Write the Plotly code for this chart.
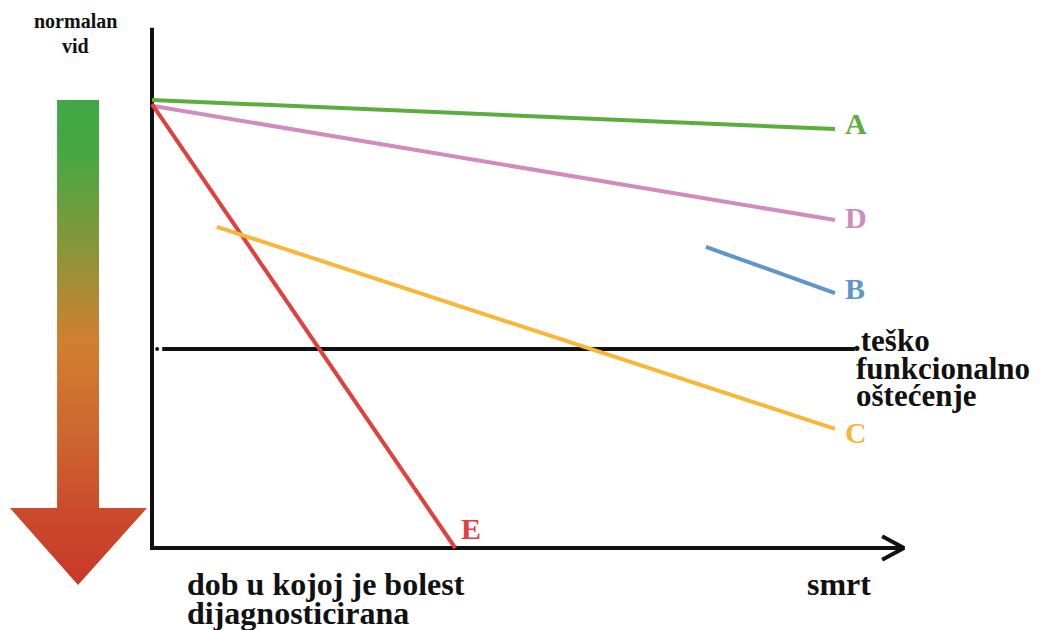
import plotly.graph_objects as go

# Conceptual data: x = time from diagnosis (0) to death (100); y = visual function (100 = normal vision)
series_names = ["A", "D", "E", "C", "B"]
series_x = {
    "A": [0, 100],
    "D": [0, 100],
    "E": [0, 44.4],
    "C": [9.5, 100],
    "B": [81.1, 100],
}
series_y = {
    "A": [100, 93.5],
    "D": [98.7, 73.2],
    "E": [99.1, 0],
    "C": [71.7, 26.6],
    "B": [67.2, 56.9],
}
series_colors = {
    "A": "#5cad3e",
    "D": "#cf8cbd",
    "E": "#e2403c",
    "C": "#f7b83a",
    "B": "#5f95c9",
}
label_shift = {"A": (8, 6), "D": (8, 3), "E": (4, 20), "C": (8, -4), "B": (8, 5)}
threshold_y = 44.4
threshold_x = [1.5, 102.9]

SERIF = "Liberation Serif, Times New Roman, serif"

fig = go.Figure()

# gradient arrow on the left
ax_x = [-13.9, -7.76, -7.76, -0.73, -10.83, -20.8, -13.9, -13.9]
ax_y = [100, 100, 8.93, 8.93, -8.26, 8.93, 8.93, 100]
fig.add_trace(go.Scatter(
    x=ax_x, y=ax_y, mode="lines", line=dict(width=0), fill="toself",
    fillgradient=dict(
        type="vertical", start=-8.26, stop=100,
        colorscale=[[0.0, "#c8382a"], [0.155, "#cb4b2c"], [0.278, "#cd612f"],
                    [0.505, "#d08030"], [0.69, "#8a9539"], [0.897, "#45a843"],
                    [1.0, "#3fa845"]]),
    hoverinfo="skip", showlegend=False))

# axes
fig.add_trace(go.Scatter(x=[0, 0, 110], y=[116.1, 0, 0], mode="lines",
                         line=dict(color="#111111", width=4), hoverinfo="skip", showlegend=False))
fig.add_trace(go.Scatter(x=[106.9, 110.1, 106.9], y=[2.6, 0, -2.6], mode="lines",
                         line=dict(color="#111111", width=4), hoverinfo="skip", showlegend=False))

# threshold line
fig.add_trace(go.Scatter(x=threshold_x, y=[threshold_y, threshold_y], mode="lines",
                         line=dict(color="#111111", width=4), hoverinfo="skip", showlegend=False))
fig.add_trace(go.Scatter(x=[0.75], y=[threshold_y], mode="markers",
                         marker=dict(color="#111111", size=4), hoverinfo="skip", showlegend=False))

# series lines
for n in series_names:
    fig.add_trace(go.Scatter(x=series_x[n], y=series_y[n], mode="lines",
                             line=dict(color=series_colors[n], width=4),
                             name=n, showlegend=False))
    xs, ys = label_shift[n]
    fig.add_annotation(x=series_x[n][-1], y=series_y[n][-1], text="<b>%s</b>" % n,
                       showarrow=False, xanchor="left", yanchor="middle",
                       xshift=xs, yshift=ys,
                       font=dict(family=SERIF, size=30, color=series_colors[n]))

# page body has an 8px margin: figure covers reference pixels 8..1043 x 8..630
OFF = 8
W, H = 1043 - OFF, 630 - OFF
def px(xp, yp):
    return (xp - OFF) / W, 1 - (yp - OFF) / H

texts = [
    ("normalan", 75, 21, 20, "center"),
    ("vid", 75, 46, 20, "center"),
    (".teško", 852, 340, 31, "left"),
    ("funkcionalno", 855, 368, 31, "left"),
    ("oštećenje", 855, 395, 31, "left"),
    ("dob u kojoj je bolest", 186, 584, 32, "left"),
    ("dijagnosticirana", 186, 613, 32, "left"),
    ("smrt", 806, 584, 32, "left"),
]
for t, x0, y0, s, anc in texts:
    xx, yy = px(x0, y0)
    fig.add_annotation(x=xx, y=yy, xref="paper", yref="paper", text="<b>%s</b>" % t,
                       showarrow=False, xanchor=anc, yanchor="middle", borderpad=0,
                       font=dict(family=SERIF, size=s, color="#111111"))

fig.update_layout(
    width=W, height=H, margin=dict(l=0, r=0, t=0, b=0),
    paper_bgcolor="white", plot_bgcolor="white",
    xaxis=dict(range=[(OFF - 152) / 6.83, (1043 - 152) / 6.83], visible=False, fixedrange=True),
    yaxis=dict(range=[(548 - 630) / 4.48, (548 - OFF) / 4.48], visible=False, fixedrange=True),
)
fig.write_html("out.html")
